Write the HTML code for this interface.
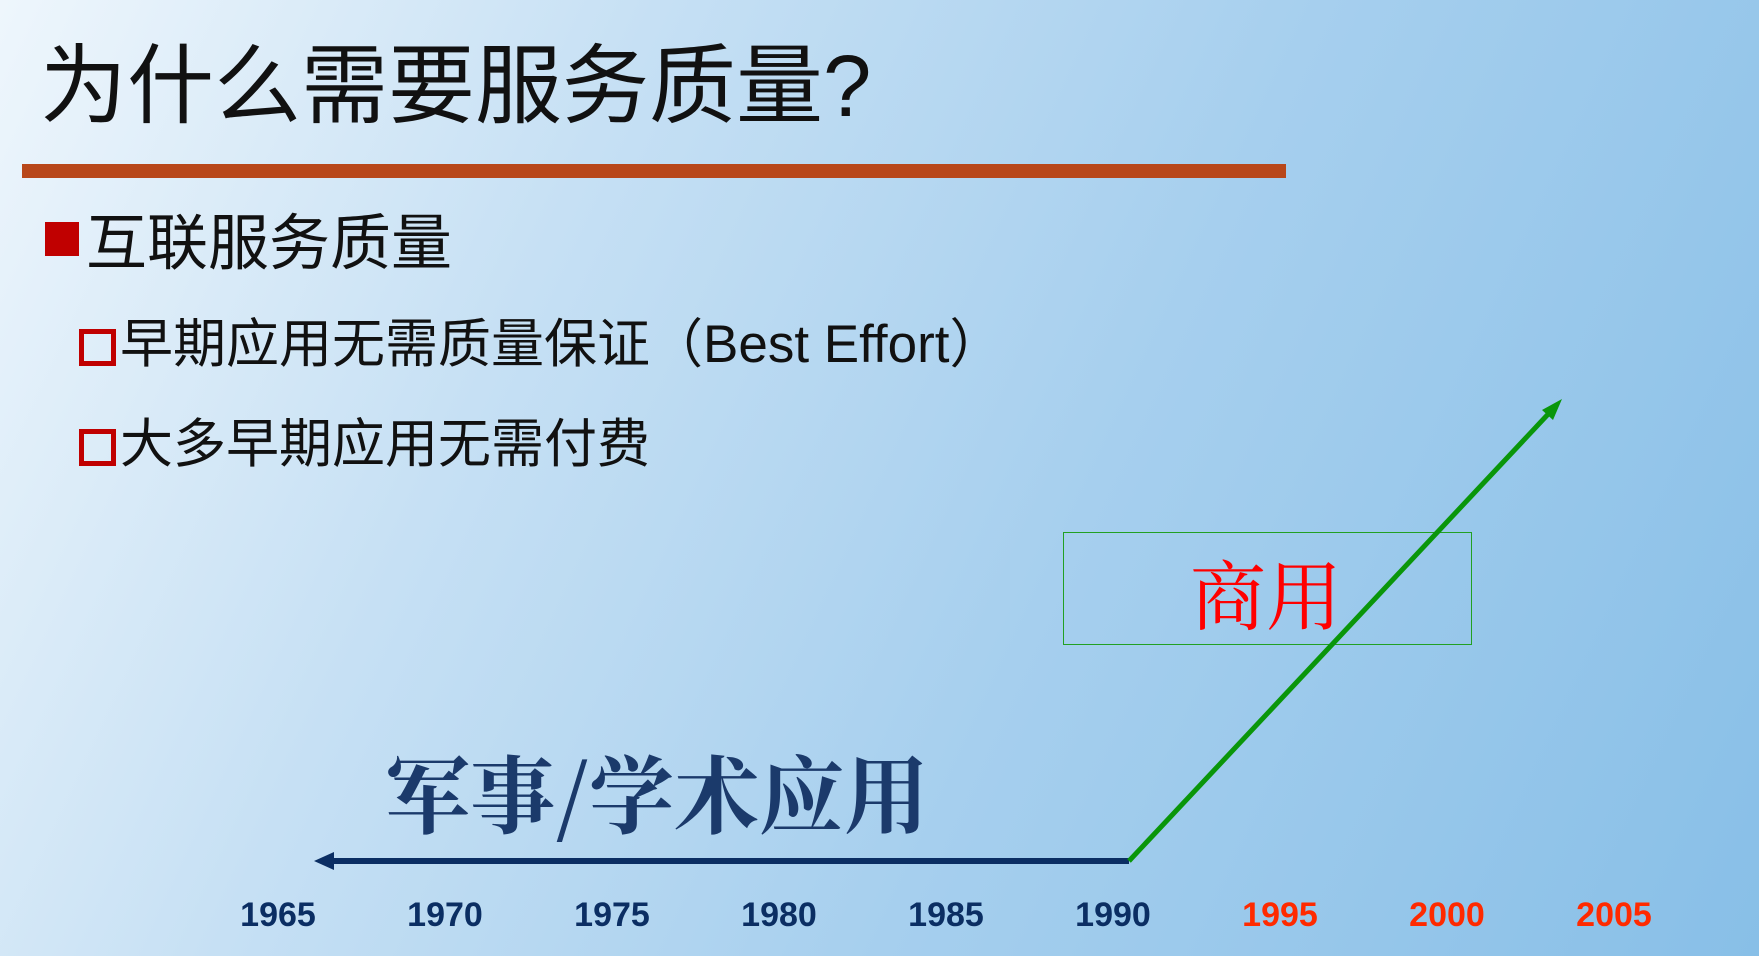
<!DOCTYPE html>
<html><head><meta charset="utf-8"><style>
body{margin:0;width:1759px;height:956px;overflow:hidden;position:relative;
background:linear-gradient(115deg,#eef6fc 0%,#c6e0f4 30%,#a6cfee 60%,#88bfe7 100%);
font-family:"Liberation Sans","Noto Sans CJK SC",sans-serif;}
.a{position:absolute;white-space:nowrap;}
</style></head><body>
<div class="a" style="left:40px;top:32px;font-size:87px;line-height:110px;color:#111;">为什么需要服务质量?</div>
<div class="a" style="left:22px;top:164px;width:1264px;height:14px;background:#b8471a;"></div>
<div class="a" style="left:45px;top:222px;width:34px;height:34px;background:#c00000;"></div>
<div class="a" style="left:86px;top:207px;font-size:61px;line-height:72px;color:#111;">互联服务质量</div>
<div class="a" style="left:79px;top:329px;width:27px;height:27px;border:5px solid #c00000;"></div>
<div class="a" style="left:120px;top:313px;font-size:53px;line-height:64px;color:#111;">早期应用无需质量保证（Best Effort）</div>
<div class="a" style="left:79px;top:429px;width:27px;height:27px;border:5px solid #c00000;"></div>
<div class="a" style="left:120px;top:413px;font-size:53px;line-height:64px;color:#111;">大多早期应用无需付费</div>
<div class="a" style="left:1063px;top:532px;width:407px;height:111px;border:1.5px solid #22a022;"></div>
<div class="a" style="left:1190px;top:546px;font-size:76px;line-height:92px;color:#ff0000;font-family:'Noto Serif CJK SC','Liberation Serif',serif;">商用</div>
<div class="a" style="left:385px;top:741px;font-size:85px;line-height:100px;color:#1b3a6b;font-weight:bold;font-family:'Noto Serif CJK SC','Liberation Serif',serif;">军事/学术应用</div>
<svg class="a" style="left:0;top:0" width="1759" height="956">
<polygon points="314,861 334,852 334,870" fill="#0b2e63"/>
<line x1="330" y1="861" x2="1129" y2="861" stroke="#0b2e63" stroke-width="6"/>
<line x1="1129" y1="861" x2="1552" y2="410" stroke="#0a960a" stroke-width="5"/>
<polygon points="1562,399 1542,410 1553,420" fill="#0a960a"/>
<g id="yrs"></g>
</svg>
<script>
const years=["1965","1970","1975","1980","1985","1990","1995","2000","2005"];
const commercial=[false,false,false,false,false,false,true,true,true];
const g=document.getElementById('yrs');
const xs=i=>278+i*167;
years.forEach((y,i)=>{
const t=document.createElementNS('http://www.w3.org/2000/svg','text');


t.setAttribute('x',xs(i));t.setAttribute('y',926);
t.setAttribute('text-anchor','middle');
t.setAttribute('font-family','"Liberation Sans Narrow","Liberation Sans",sans-serif');
t.setAttribute('font-weight','bold');t.setAttribute('font-size','34');
t.setAttribute('fill',commercial[i]?'#ff2a00':'#0b2e63');
t.textContent=y;g.appendChild(t);});
</script>
</body></html>
